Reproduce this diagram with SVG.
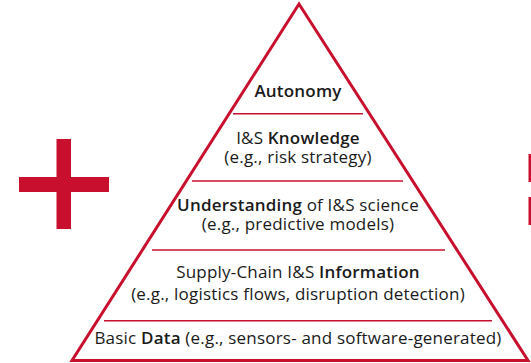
<svg xmlns="http://www.w3.org/2000/svg" width="531" height="363" viewBox="0 0 531 363">
  <style>
    .red { fill: #c8102e; }
    .edge { fill: none; stroke: #c8102e; stroke-width: 3; stroke-linejoin: miter; }
    .sep { stroke: #c8102e; stroke-width: 1.5; }
    text { font-family: "Open Sans", "Noto Sans", "DejaVu Sans", sans-serif; font-size: 17px; letter-spacing: 0.2px; fill: #1a1a1a; text-anchor: middle; }
    .b { font-weight: 600; }
  </style>
  <rect width="531" height="363" fill="#ffffff"/>
  <g id="plus">
    <rect class="red" x="56.5" y="139" width="14.5" height="90"/>
    <rect class="red" x="19" y="177" width="90" height="15"/>
  </g>
  <g id="right-marks">
    <rect class="red" x="528.5" y="154" width="3" height="28"/>
    <rect class="red" x="528.5" y="197" width="3" height="28"/>
  </g>
  <g id="pyramid">
    <polygon class="edge" points="299,4 72,360.5 528,360.5"/>
  </g>
  <g id="connectors">
    <line class="sep" x1="233" y1="113.7" x2="363" y2="113.7"/>
    <line class="sep" x1="192" y1="181" x2="403" y2="181"/>
    <line class="sep" x1="152" y1="250" x2="445" y2="250"/>
    <line class="sep" x1="104" y1="320.7" x2="492" y2="320.7"/>
  </g>
  <g id="autonomy">
    <text x="298" y="97" class="b">Autonomy</text>
  </g>
  <g id="knowledge">
    <text x="298" y="144">I&amp;S <tspan class="b">Knowledge</tspan></text>
    <text x="298" y="163">(e.g., risk strategy)</text>
  </g>
  <g id="understanding">
    <text x="298" y="210.5"><tspan class="b">Understanding</tspan> of I&amp;S science</text>
    <text x="298" y="230">(e.g., predictive models)</text>
  </g>
  <g id="information">
    <text x="298" y="277.5">Supply-Chain I&amp;S <tspan class="b">Information</tspan></text>
    <text x="298" y="300">(e.g., logistics flows, disruption detection)</text>
  </g>
  <g id="data">
    <text x="298" y="344">Basic <tspan class="b">Data</tspan> (e.g., sensors- and software-generated)</text>
  </g>
</svg>
